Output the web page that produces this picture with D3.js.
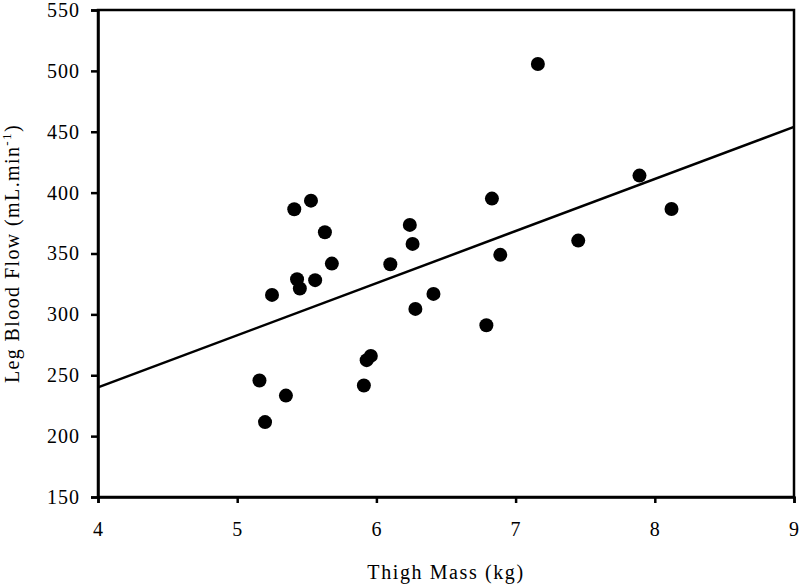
<!DOCTYPE html>
<html><head><meta charset="utf-8">
<script src="https://cdn.jsdelivr.net/npm/d3@7"></script>
<style>body{margin:0;background:#fff}svg{display:block}text{font-family:"Liberation Serif","Times New Roman",serif;fill:#000}</style>
</head><body>
<svg id="c" width="799" height="585"></svg>
<script>
const thighMass = [5.16,5.20,5.25,5.35,5.41,5.43,5.45,5.53,5.56,5.63,5.68,5.91,5.93,5.96,6.10,6.24,6.26,6.28,6.41,6.79,6.83,6.89,7.16,7.45,7.89,8.12];
const bloodFlow = [245.7,211.5,316,233.3,386.4,328.9,321.2,393.4,328.1,367.5,341.7,241.6,262.4,265.9,341.2,373.5,357.9,304.5,316.8,291.1,395.1,348.9,505.7,360.6,414,386.6];
const fitX = [4, 9];
const fitY = [240, 454];
const xTicks = [4,5,6,7,8,9];
const yTicks = [150,200,250,300,350,400,450,500,550];

const svg = d3.select("#c");
const L=98, R=794, T=10, B=497;
const x = d3.scaleLinear().domain([4,9]).range([L,R]);
const y = d3.scaleLinear().domain([150,550]).range([B,T]);

// frame
svg.append("rect").attr("x",L).attr("y",T).attr("width",R-L).attr("height",B-T)
  .attr("fill","none").attr("stroke","#000").attr("stroke-width",2.5);

const xa = svg.append("g").attr("transform",`translate(0,${B})`)
  .call(d3.axisBottom(x).tickValues(xTicks).tickFormat(d3.format("d")).tickSize(6).tickPadding(19));
const ya = svg.append("g").attr("transform",`translate(${L},0)`)
  .call(d3.axisLeft(y).tickValues(yTicks).tickFormat(d3.format("d")).tickSize(7).tickPadding(11));
[xa,ya].forEach(g=>{
  g.attr("font-family",null).attr("font-size",null);
  g.select(".domain").attr("stroke","#000").attr("stroke-width",2.5);
  g.selectAll(".tick line").attr("stroke","#000").attr("stroke-width",2.5);
  g.selectAll(".tick text").attr("font-size",20).attr("letter-spacing",1).attr("fill","#000");
});

// regression line
svg.append("line").attr("x1",x(fitX[0])).attr("y1",y(fitY[0])).attr("x2",x(fitX[1])).attr("y2",y(fitY[1]))
  .attr("stroke","#000").attr("stroke-width",2.5);

// points
svg.append("g").selectAll("circle").data(thighMass.map((d,i)=>[d,bloodFlow[i]])).join("circle")
  .attr("cx",d=>x(d[0])).attr("cy",d=>y(d[1])).attr("r",7).attr("fill","#000");

// titles
svg.append("text").attr("x",(L+R)/2).attr("y",579).attr("text-anchor","middle")
  .attr("font-size",20).attr("letter-spacing",1.6).text("Thigh Mass (kg)");
const yt = svg.append("text").attr("transform",`translate(19,${(T+B)/2}) rotate(-90)`)
  .attr("text-anchor","middle").attr("font-size",20).attr("letter-spacing",1.4);
yt.append("tspan").text("Leg Blood Flow (mL.min");
yt.append("tspan").attr("dy",-8).attr("font-size",13).text("-1");
yt.append("tspan").attr("dy",8).text(")");
</script>
</body></html>
